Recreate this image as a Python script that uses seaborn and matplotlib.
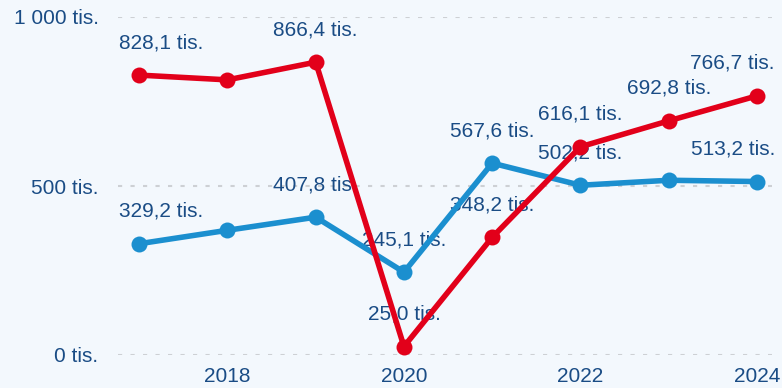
import matplotlib
matplotlib.use("Agg")
import matplotlib.pyplot as plt
import seaborn as sns
import pandas as pd

# Data (thousands)
years = [2017, 2018, 2019, 2020, 2021, 2022, 2023, 2024]
blue_values = [329.2, 369.0, 407.8, 245.1, 567.6, 502.2, 517.0, 513.2]
red_values = [828.1, 814.0, 866.4, 25.0, 348.2, 616.1, 692.8, 766.7]
blue_labelled = [2017, 2019, 2020, 2021, 2022, 2024]
red_labelled = [2017, 2019, 2020, 2021, 2022, 2023, 2024]
y_ticks = [0, 500, 1000]
y_tick_labels = ["0 tis.", "500 tis.", "1 000 tis."]
x_ticks = [2018, 2020, 2022, 2024]

BG = "#f3f8fd"
TEXT = "#1a4c85"
BLUE = "#1b8fcf"
RED = "#e2001a"

df = pd.DataFrame({
    "rok": years * 2,
    "hodnota": blue_values + red_values,
    "řada": ["modrá"] * len(years) + ["červená"] * len(years),
})

sns.set_theme(style="white")
plt.rcParams["font.family"] = ["Liberation Sans", "DejaVu Sans"]

W, H = 782, 388
fig = plt.figure(figsize=(W / 100, H / 100), dpi=100, facecolor=BG)
ax = fig.add_axes([118 / W, 33 / H, (772 - 118) / W, 338 / H])
ax.set_facecolor(BG)

sns.lineplot(
    data=df, x="rok", y="hodnota", hue="řada",
    hue_order=["modrá", "červená"], palette=[BLUE, RED],
    marker="o", markersize=11.5, markeredgewidth=0, linewidth=4.0,
    legend=False, ax=ax, zorder=3,
)
for line in ax.lines:
    line.set_clip_on(False)

ax.set_xlim(2016.76, 2024.17)
ax.set_ylim(0, 1000)
ax.set_yticks(y_ticks)
ax.set_yticklabels(y_tick_labels)
ax.set_xticks(x_ticks)
ax.set_xticklabels([str(x) for x in x_ticks])
ax.tick_params(axis="both", length=0, labelsize=15, labelcolor=TEXT)
ax.tick_params(axis="y", pad=14)
ax.tick_params(axis="x", pad=9)
ax.set_xlabel("")
ax.set_ylabel("")
for s in ax.spines.values():
    s.set_visible(False)
ax.grid(False)
for yv in y_ticks:
    ax.axhline(yv, color="#cdd0d4", linewidth=1.5, linestyle=(0, (2.0, 4.0)), zorder=0)


def fmt(v):
    return f"{v:.1f}".replace(".", ",") + " tis."


texts = []
for vals, labelled in [(blue_values, blue_labelled), (red_values, red_labelled)]:
    for yr, v in zip(years, vals):
        if yr in labelled:
            t = ax.annotate(fmt(v), xy=(yr, v), xytext=(0, 27), textcoords="offset pixels",
                            ha="center", va="baseline", fontsize=15, color=TEXT,
                            zorder=1, annotation_clip=False)
            texts.append(t)

# keep labels inside the plotting area horizontally
fig.canvas.draw()
renderer = fig.canvas.get_renderer()
ax_bb = ax.get_window_extent(renderer)
for t in texts:
    bb = t.get_window_extent(renderer)
    dx = 0
    if bb.x0 < ax_bb.x0:
        dx = ax_bb.x0 - bb.x0 + 1
    elif bb.x1 > ax_bb.x1 + 3:
        dx = (ax_bb.x1 + 3) - bb.x1
    if dx:
        ox, oy = t.xyann
        t.xyann = (ox + dx, oy)

fig.savefig("out.png", dpi=100, facecolor=BG)
